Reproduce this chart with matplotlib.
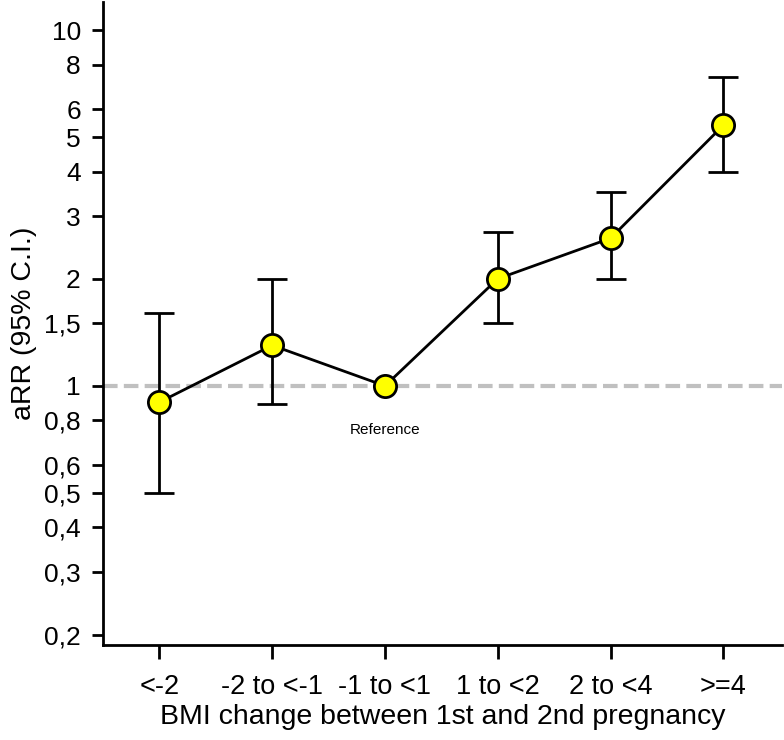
import numpy as np
import matplotlib
matplotlib.use('Agg')
import matplotlib.pyplot as plt
from matplotlib.ticker import FixedLocator, NullLocator

plt.rcParams['font.family'] = ['Liberation Sans', 'DejaVu Sans']

categories = ['<-2', '-2 to <-1', '-1 to <1', '1 to <2', '2 to <4', '>=4']
arr = [0.90, 1.30, 1.00, 2.00, 2.60, 5.40]
ci_low = [0.50, 0.89, 1.00, 1.50, 2.00, 4.00]
ci_high = [1.60, 2.00, 1.00, 2.70, 3.50, 7.40]
yticks = [0.2, 0.3, 0.4, 0.5, 0.6, 0.8, 1, 1.5, 2, 3, 4, 5, 6, 8, 10]
yticklabels = ['0,2', '0,3', '0,4', '0,5', '0,6', '0,8', '1', '1,5', '2', '3', '4', '5', '6', '8', '10']

x = np.arange(len(categories))
arr = np.array(arr)
err = np.array([arr - np.array(ci_low), np.array(ci_high) - arr])

fig = plt.figure(figsize=(7.84, 7.40), dpi=100)
ax = fig.add_axes([0.1314, 0.1284, 0.866, 0.869])

ax.axhline(1, color='#c0c0c0', lw=3, ls=(0, (3.5, 1.5)), zorder=1)

# skip the reference group's error bar (zero width)
has_ci = np.array(ci_low) != np.array(ci_high)
ax.errorbar(x[has_ci], arr[has_ci], yerr=err[:, has_ci], fmt='none', ecolor='black',
            elinewidth=2, capsize=11, capthick=2, zorder=2)
ax.plot(x, arr, color='black', lw=2, marker='o', markersize=16,
        markerfacecolor='#ffff00', markeredgecolor='black', markeredgewidth=2, zorder=3)

ax.text(2, 0.752, 'Reference', ha='center', va='center', fontsize=11)

ax.set_yscale('log')
ax.set_ylim(0.187, 12)
ax.set_xlim(-0.5, 5.52)
ax.yaxis.set_major_locator(FixedLocator(yticks))
ax.yaxis.set_minor_locator(NullLocator())
ax.set_yticklabels(yticklabels)
ax.set_xticks(x)
ax.set_xticklabels(categories)

for s in ['top', 'right']:
    ax.spines[s].set_visible(False)
for s in ['left', 'bottom']:
    ax.spines[s].set_linewidth(2)

ax.tick_params(axis='y', labelsize=19, length=8, width=2, pad=8)
ax.tick_params(axis='x', labelsize=19.5, length=10, width=2, pad=11)
ax.set_xlabel('BMI change between 1st and 2nd pregnancy', fontsize=20.5, labelpad=3)
ax.set_ylabel('aRR (95% C.I.)', fontsize=20.5, labelpad=5)

fig.savefig('out.png', dpi=100)
